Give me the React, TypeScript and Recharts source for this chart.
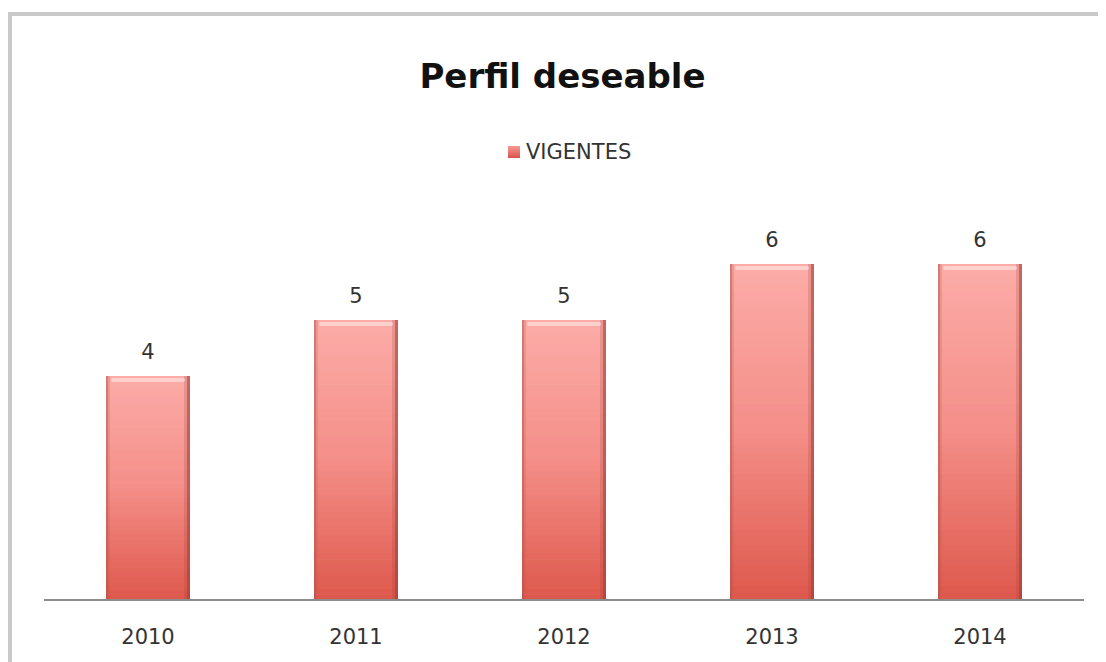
import React from "react";
import { BarChart, Bar, XAxis, YAxis, LabelList } from "recharts";

const categories = ["2010", "2011", "2012", "2013", "2014"];
const vigentes = [4, 5, 5, 6, 6];
const seriesName = "VIGENTES";
const title = "Perfil deseable";

const data = categories.map((c, i) => ({ year: c, v: vigentes[i] }));

const FONT = "'DejaVu Sans', Verdana, sans-serif";

const TOP = [252, 172, 168];
const MID = [244, 142, 136];
const BOT = [222, 88, 76];

const mix = (a: number[], b: number[], t: number) =>
  `rgb(${a.map((v, i) => Math.round(v + (b[i] - v) * t)).join(",")})`;

const colorAt = (t: number) => (t < 0.5 ? mix(TOP, MID, t / 0.5) : mix(MID, BOT, (t - 0.5) / 0.5));

const renderBar = (props: any) => {
  const x = Number(props.x);
  const y = Number(props.y);
  const width = Number(props.width);
  const height = Number(props.height);
  if (!(height > 0)) return <g />;
  const n = 48;
  const strips = [];
  for (let i = 0; i < n; i++) {
    const sy = y + (height * i) / n;
    strips.push(
      <rect key={i} x={x} y={sy} width={width} height={height / n + 0.6} fill={colorAt((i + 0.5) / n)} stroke="none" />
    );
  }
  return (
    <g>
      {strips}
      <rect x={x} y={y} width={2} height={height} fill="#b5544d" opacity={0.55} />
      <rect x={x + 2} y={y} width={2} height={height} fill="#b5544d" opacity={0.2} />
      <rect x={x + width - 3} y={y} width={3} height={height} fill="#9e3a33" opacity={0.6} />
      <rect x={x + width - 6} y={y} width={3} height={height} fill="#9e3a33" opacity={0.2} />
      <rect x={x + 5} y={y + 2} width={Math.max(0, width - 10)} height={4} rx={2} fill="#ffffff" opacity={0.45} />
    </g>
  );
};

export default function App() {
  return (
    <div style={{ position: "relative", width: 1098, height: 654, overflow: "hidden" }}>
      <div style={{ position: "absolute", left: 0, top: 4, width: 1200, height: 800, borderTop: "4px solid #c9c9c9", borderLeft: "4px solid #c9c9c9" }} />
      <div style={{ position: "absolute", left: 0, top: 48, width: 1109, textAlign: "center", fontFamily: FONT, fontWeight: 700, fontSize: 34, lineHeight: "normal", color: "#111" }}>
        {title}
      </div>
      <div style={{ position: "absolute", left: 500, top: 132, display: "flex", alignItems: "center", fontFamily: FONT, fontSize: 21, color: "#333", whiteSpace: "nowrap" }}>
        <span style={{ display: "inline-block", width: 12, height: 12, background: "linear-gradient(#f79a95, #d9534a)", marginRight: 6 }} />
        <span>{seriesName}</span>
      </div>
      <div style={{ position: "absolute", left: 0, top: 0 }}>
        <BarChart width={1098} height={654} data={data} margin={{ top: 200, right: 22, left: 36, bottom: 32 }} barSize={84}>
          <XAxis dataKey="year" axisLine={{ stroke: "#8c8c8c", strokeWidth: 2 }} tickLine={false} height={30} tick={{ fill: "#333", fontSize: 21, fontFamily: FONT, dy: 21 }} />
          <YAxis hide domain={[0, 7]} />
          <Bar dataKey="v" name={seriesName} fill="#f08a84" shape={renderBar} isAnimationActive={false}>
            <LabelList dataKey="v" position="top" offset={17} style={{ fill: "#333", fontSize: 21, fontFamily: FONT }} />
          </Bar>
        </BarChart>
      </div>
    </div>
  );
}
